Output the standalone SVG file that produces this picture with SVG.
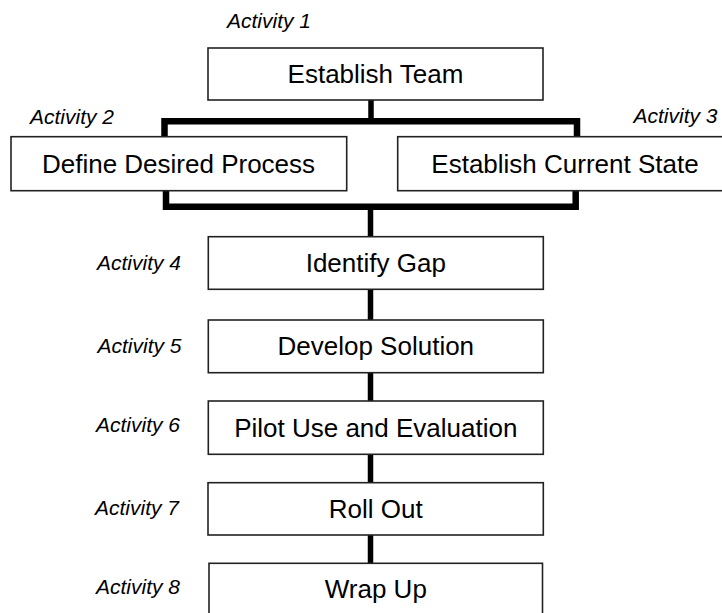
<svg xmlns="http://www.w3.org/2000/svg" width="722" height="613" viewBox="0 0 722 613">
<style>
.box{fill:#fff;stroke:#222;stroke-width:1.6}
.t{font-family:"Liberation Sans",Arial,sans-serif;font-size:26px;fill:#000;text-anchor:middle}
.lbl{font-family:"Liberation Sans",Arial,sans-serif;font-size:21px;font-style:italic;fill:#000}
.c{fill:none;stroke:#000;stroke-linejoin:miter;stroke-linecap:butt}
</style>
<rect width="722" height="613" fill="#fff"/>
<g id="connectors">
<path class="c" stroke-width="5.5" d="M371,100 V121"/>
<path class="c" stroke-width="6.5" d="M164.5,137 V121.3 H577 V137"/>
<path class="c" stroke-width="6.5" d="M166,191 V206.7 H575.7 V191"/>
<path class="c" stroke-width="5.5" d="M370.5,206.7 V237"/>
<path class="c" stroke-width="5.5" d="M370.5,289 V320"/>
<path class="c" stroke-width="5.5" d="M370.5,372.7 V401"/>
<path class="c" stroke-width="5.5" d="M370.5,454.3 V482.7"/>
<path class="c" stroke-width="5.5" d="M370.5,535 V563.3"/>
</g>
<g id="activity1">
<text class="lbl" x="227" y="28">Activity 1</text>
<rect class="box" x="208" y="48" width="335" height="52"/>
<text class="t" x="375.5" y="82.7">Establish Team</text>
</g>
<g id="activity2">
<text class="lbl" x="30" y="124">Activity 2</text>
<rect class="box" x="11" y="136.7" width="335.7" height="54"/>
<text class="t" x="178.5" y="172.7">Define Desired Process</text>
</g>
<g id="activity3">
<text class="lbl" x="717.5" y="123" text-anchor="end">Activity 3</text>
<rect class="box" x="397.7" y="136.7" width="334.3" height="54"/>
<text class="t" x="565" y="172.7">Establish Current State</text>
</g>
<g id="activity4">
<text class="lbl" x="181" y="270" text-anchor="end">Activity 4</text>
<rect class="box" x="208.3" y="236.7" width="335" height="52.6"/>
<text class="t" x="375.8" y="272.3">Identify Gap</text>
</g>
<g id="activity5">
<text class="lbl" x="181.5" y="352.7" text-anchor="end">Activity 5</text>
<rect class="box" x="208.3" y="320" width="335" height="52.7"/>
<text class="t" x="375.8" y="355">Develop Solution</text>
</g>
<g id="activity6">
<text class="lbl" x="180" y="431.7" text-anchor="end">Activity 6</text>
<rect class="box" x="208.3" y="401" width="335" height="53.3"/>
<text class="t" x="375.8" y="436.7">Pilot Use and Evaluation</text>
</g>
<g id="activity7">
<text class="lbl" x="179" y="514.7" text-anchor="end">Activity 7</text>
<rect class="box" x="208" y="482.7" width="335.3" height="52.3"/>
<text class="t" x="375.8" y="517.5">Roll Out</text>
</g>
<g id="activity8">
<text class="lbl" x="180" y="594.3" text-anchor="end">Activity 8</text>
<rect class="box" x="209" y="563.3" width="333.5" height="52"/>
<text class="t" x="375.8" y="598.3">Wrap Up</text>
</g>
</svg>
